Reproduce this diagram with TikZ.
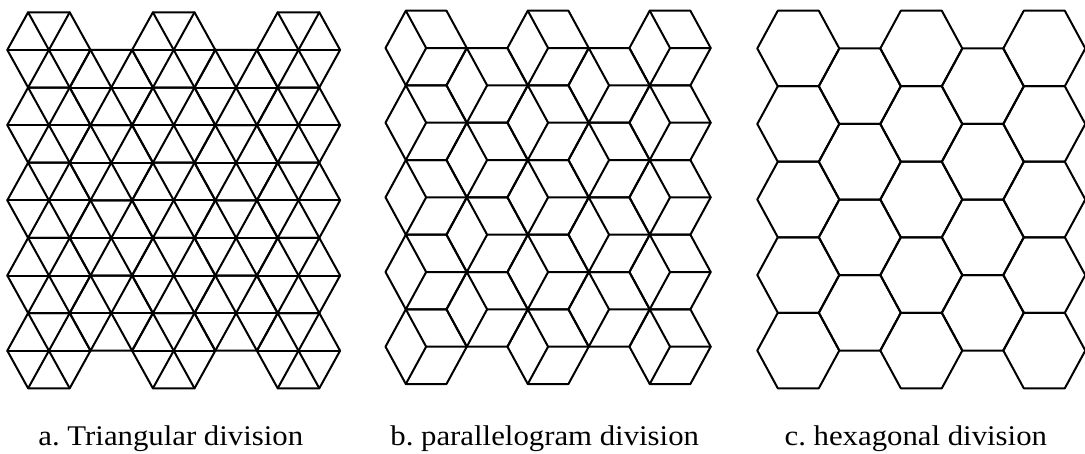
\documentclass[tikz,border=0pt]{standalone}
\usepackage{fontspec}
\setmainfont{Liberation Serif}
\frenchspacing
\tikzset{tile/.style={line width=2pt, line join=round, line cap=round, black},
  caption/.style={font=\fontsize{28.5}{32}\selectfont, xscale=1.08, anchor=base, inner sep=0pt}}
% #1 x of left vertex, #2 y of top edge, #3 side, #4 half height, #5 inner lines
\newcommand\hexpanel[5]{%
  \foreach \jj in {0,...,4}{%
    \pgfmathtruncatemacro\hodd{mod(\jj,2)}%
    \pgfmathtruncatemacro\hnk{4-\hodd}%
    \foreach \kk in {0,...,\hnk}{%
      \pgfmathsetmacro\hs{#3}%
      \pgfmathsetmacro\hh{#4}%
      \pgfmathsetmacro\hx{#1+\hs+1.5*\hs*\jj}%
      \pgfmathsetmacro\hy{#2+\hh+\hh*\hodd+2*\hh*\kk}%
      \draw[tile] (\hx+\hs,\hy) -- (\hx+0.5*\hs,\hy-\hh) -- (\hx-0.5*\hs,\hy-\hh)
        -- (\hx-\hs,\hy) -- (\hx-0.5*\hs,\hy+\hh) -- (\hx+0.5*\hs,\hy+\hh) -- cycle;
      #5
    }%
  }%
}
\begin{document}
\begin{tikzpicture}[x=1pt,y=-1pt]
\useasboundingbox (0,0) rectangle (1085,453);
\fill[white] (0,0) rectangle (1085,453);
\clip (0,0) rectangle (1085,453);
% a. triangular
\hexpanel{7.3}{12.3}{41.6}{37.6}{%
  \draw[tile] (\hx-\hs,\hy) -- (\hx+\hs,\hy);
  \draw[tile] (\hx-0.5*\hs,\hy-\hh) -- (\hx+0.5*\hs,\hy+\hh);
  \draw[tile] (\hx+0.5*\hs,\hy-\hh) -- (\hx-0.5*\hs,\hy+\hh);}
% b. parallelogram
\hexpanel{385.5}{10.7}{40.65}{37.33}{%
  \draw[tile] (\hx-0.5*\hs,\hy-\hh) -- (\hx,\hy) -- (\hx+\hs,\hy);
  \draw[tile] (\hx,\hy) -- (\hx-0.5*\hs,\hy+\hh);}
% c. hexagonal
\hexpanel{757.3}{10.7}{41}{37.76}{}
\node[caption] (la) at (170.8,445) {a. Triangular division};
\node[caption] (lb) at (544.7,445) {b. parallelogram division};
\node[caption] (lc) at (915.8,445) {c. hexagonal division};
\end{tikzpicture}
\end{document}
